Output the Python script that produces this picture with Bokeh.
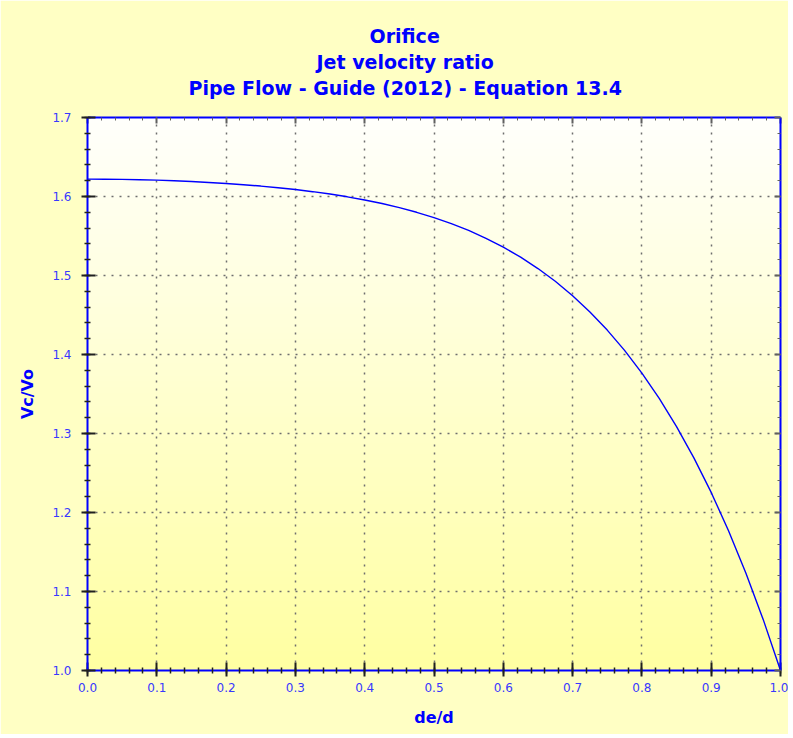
import numpy as np
from bokeh.plotting import figure
from bokeh.models import LinearAxis, Range1d, FixedTicker, Title, NumeralTickFormatter
from bokeh.embed import file_html
from bokeh.resources import INLINE

# ---- data ----
de_d = [0.0, 0.025, 0.05, 0.075, 0.1, 0.125, 0.15, 0.175, 0.2, 0.225,
        0.25, 0.275, 0.3, 0.325, 0.35, 0.375, 0.4, 0.425, 0.45, 0.475,
        0.5, 0.525, 0.55, 0.575, 0.6, 0.625, 0.65, 0.675, 0.7, 0.725,
        0.75, 0.775, 0.8, 0.825, 0.85, 0.875, 0.9, 0.925, 0.95, 0.975, 1.0]
vc_vo = [1.6220, 1.6219, 1.6217, 1.6212, 1.6207, 1.6199, 1.6190, 1.6178, 1.6165, 1.6149,
         1.6132, 1.6111, 1.6088, 1.6061, 1.6031, 1.5996, 1.5956, 1.5911, 1.5859, 1.5800,
         1.5733, 1.5657, 1.5570, 1.5471, 1.5359, 1.5232, 1.5088, 1.4927, 1.4744, 1.4539,
         1.4309, 1.4052, 1.3764, 1.3444, 1.3087, 1.2692, 1.2254, 1.1769, 1.1235, 1.0647, 1.0000]

title_lines = ["Orifice", "Jet velocity ratio", "Pipe Flow - Guide (2012) - Equation 13.4"]
x_label = "de/d"
y_label = "Vc/Vo"
x_ticks = [0.0, 0.1, 0.2, 0.3, 0.4, 0.5, 0.6, 0.7, 0.8, 0.9, 1.0]
y_ticks = [1.0, 1.1, 1.2, 1.3, 1.4, 1.5, 1.6, 1.7]

# ---- style ----
FONT = "DejaVu Sans"
BLUE = "#0000FF"
TICK_BLUE = "#3838FF"
OUTER = "#FFFFC4"

x_minor = [round(v, 3) for v in np.arange(x_ticks[0], x_ticks[-1] + 1e-9, 0.02)]
y_minor = [round(v, 3) for v in np.arange(y_ticks[0], y_ticks[-1] + 1e-9, 0.02)]

p = figure(width=788, height=734, output_backend="svg", toolbar_location=None,
           title_location=None,
           x_range=Range1d(x_ticks[0], x_ticks[-1]), y_range=Range1d(y_ticks[0], y_ticks[-1]),
           min_border_left=87, min_border_right=8, min_border_top=117, min_border_bottom=64)
p.border_fill_color = OUTER
p.background_fill_color = "#FFFFDC"
p.outline_line_color = None

# vertical gradient background of the plot area
n = 256
img = np.empty((n, 1), dtype=np.uint32)
view = img.view(dtype=np.uint8).reshape((n, 1, 4))
t = np.linspace(0.0, 1.0, n)  # 0 bottom, 1 top
bottom_c = np.array([255, 255, 162])
top_c = np.array([255, 255, 252])
for i in range(n):
    c = bottom_c + (top_c - bottom_c) * t[i]
    view[i, 0, 0] = int(c[0]); view[i, 0, 1] = int(c[1]); view[i, 0, 2] = int(c[2]); view[i, 0, 3] = 255
p.image_rgba(image=[img], x=x_ticks[0], y=y_ticks[0], dw=x_ticks[-1] - x_ticks[0],
             dh=y_ticks[-1] - y_ticks[0], level="image")


def style_axis(ax, labels=True):
    ax.axis_line_color = BLUE
    ax.axis_line_width = 2
    ax.major_tick_line_color = "#202020"
    ax.major_tick_line_width = 2
    ax.minor_tick_line_color = "#202020"
    ax.minor_tick_line_width = 1.5
    ax.formatter = NumeralTickFormatter(format="0.0")
    if labels:
        ax.major_tick_in = 8
        ax.major_tick_out = 6
        ax.minor_tick_in = 3
        ax.minor_tick_out = 3
        ax.major_label_text_font = FONT
        ax.major_label_text_font_size = "12px"
        ax.major_label_text_color = TICK_BLUE
        ax.axis_label_text_font = FONT
        ax.axis_label_text_font_size = "16px"
        ax.axis_label_text_font_style = "bold"
        ax.axis_label_text_color = BLUE
    else:
        ax.major_tick_in = 6
        ax.major_tick_out = 0
        ax.minor_tick_in = 3
        ax.minor_tick_out = 0
        ax.major_label_text_color = None
        ax.major_label_standoff = 0
        ax.major_tick_line_color = "#606060"
        ax.minor_tick_line_color = "#606060"
        ax.minor_tick_line_width = 1


p.xaxis.ticker = FixedTicker(ticks=x_ticks, minor_ticks=x_minor)
p.yaxis.ticker = FixedTicker(ticks=y_ticks, minor_ticks=y_minor)
style_axis(p.xaxis[0])
style_axis(p.yaxis[0])
p.xaxis.axis_label = x_label
p.yaxis.axis_label = y_label
p.xaxis.major_label_standoff = 6
p.yaxis.major_label_standoff = 10
p.xaxis.axis_label_standoff = 13
p.yaxis.axis_label_standoff = 12

top = LinearAxis(ticker=FixedTicker(ticks=x_ticks, minor_ticks=x_minor))
style_axis(top, labels=False)
p.add_layout(top, "above")
right = LinearAxis(ticker=FixedTicker(ticks=y_ticks, minor_ticks=y_minor))
style_axis(right, labels=False)
p.add_layout(right, "right")

# invisible spacer between the top border and the title block (tick in background colour)
spacer = LinearAxis(ticker=FixedTicker(ticks=[x_ticks[0]], minor_ticks=[]),
                    axis_line_color=None, major_tick_line_color=OUTER, minor_tick_line_color=None,
                    major_label_text_color=None, major_label_standoff=0,
                    major_tick_in=0, major_tick_out=18, minor_tick_in=0, minor_tick_out=0)
p.add_layout(spacer, "above")

for g in (p.xgrid[0], p.ygrid[0]):
    g.grid_line_color = "#6E6E6E"
    g.grid_line_dash = "2 6"
    g.grid_line_width = 1.5

p.line(de_d, vc_vo, line_color=BLUE, line_width=1.4)

# title lines, centred on the picture (left aligned with measured offsets)
title_offsets = [282, 229, 101]
for txt, off in reversed(list(zip(title_lines, title_offsets))):
    p.add_layout(Title(text=txt, align="left", offset=off, standoff=1.5,
                       text_font=FONT, text_font_size="19px", text_font_style="bold",
                       text_color=BLUE), "above")

open("out.html", "w").write(file_html(p, INLINE))
